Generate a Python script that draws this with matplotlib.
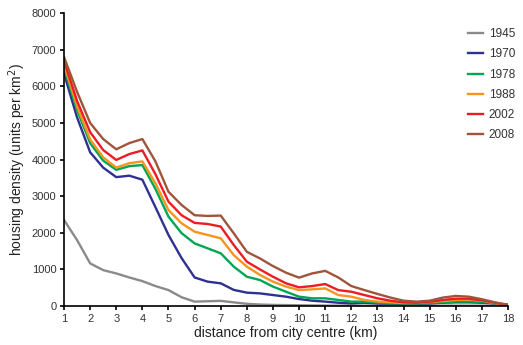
import numpy as np
import matplotlib.pyplot as plt

plt.rcParams['font.family'] = ['Liberation Sans', 'DejaVu Sans']

# distance from city centre (km), read every 0.5 km
km = np.arange(1, 18.5, 0.5)

d1945 = [2350, 1800, 1165, 980, 890, 780, 680, 545, 435, 240, 120, 130, 140, 100, 60, 40,
         30, 25, 20, 15, 12, 10, 10, 10, 10, 10, 10, 10, 10, 10, 10, 10, 10, 10, 10]
d1970 = [6350, 5150, 4200, 3780, 3520, 3560, 3450, 2700, 1940, 1310, 780, 665, 620, 440, 365, 345,
         300, 255, 190, 145, 120, 90, 70, 90, 70, 60, 60, 60, 70, 90, 100, 100, 90, 70, 30]
d1978 = [6500, 5350, 4450, 3970, 3720, 3820, 3850, 3200, 2440, 1990, 1710, 1575, 1440, 1075, 800, 710,
         530, 390, 255, 210, 210, 165, 120, 120, 90, 70, 70, 70, 80, 100, 120, 120, 110, 70, 30]
d1988 = [6600, 5450, 4550, 4060, 3780, 3900, 3950, 3350, 2620, 2260, 2030, 1940, 1850, 1390, 1075, 850,
         665, 530, 435, 455, 480, 300, 255, 165, 120, 100, 80, 80, 110, 135, 165, 175, 145, 80, 30]
d2002 = [6700, 5600, 4750, 4260, 3990, 4150, 4250, 3600, 2850, 2480, 2270, 2240, 2170, 1665, 1210, 1000,
         800, 620, 510, 545, 600, 435, 390, 300, 210, 145, 100, 90, 120, 165, 200, 200, 155, 90, 30]
d2008 = [6800, 5850, 5000, 4560, 4280, 4450, 4560, 3950, 3120, 2760, 2480, 2460, 2470, 1985, 1480, 1300,
         1090, 910, 775, 890, 960, 780, 545, 435, 330, 230, 145, 120, 145, 230, 275, 255, 185, 100, 30]

years = ['1945', '1970', '1978', '1988', '2002', '2008']
series = [d1945, d1970, d1978, d1988, d2002, d2008]
colors = ['#8a8a8c', '#2e3192', '#00a651', '#f7941d', '#ed1c24', '#a0553b']

fig = plt.figure(figsize=(5.23, 3.45), dpi=100)
ax = fig.add_axes([0.1224, 0.113, 0.849, 0.849])

for yr, vals, c in zip(years, series, colors):
    ax.plot(km, vals, color=c, linewidth=1.7, label=yr, solid_joinstyle='round')

ax.set_xlim(1, 18)
ax.set_ylim(0, 8000)
ax.set_xticks(range(1, 19))
ax.set_yticks(range(0, 8001, 1000))
ax.spines['top'].set_visible(False)
ax.spines['right'].set_visible(False)
ax.spines['left'].set_linewidth(1.2)
ax.spines['bottom'].set_linewidth(1.2)
ax.tick_params(direction='out', length=3, width=1.2, pad=2.5, labelsize=8, colors='black',
               labelcolor='#333333')
ax.set_xlabel('distance from city centre (km)', fontsize=10, color='#222222', labelpad=2)
ax.set_ylabel('housing density (units per km$^2$)', fontsize=10, color='#222222', labelpad=3)

leg = ax.legend(loc='upper right', bbox_to_anchor=(1.04, 0.985), frameon=False, fontsize=8.5,
                handlelength=1.3, handletextpad=0.5, labelspacing=0.7)
for t in leg.get_texts():
    t.set_color('#333333')

fig.savefig('out.png', dpi=100)
